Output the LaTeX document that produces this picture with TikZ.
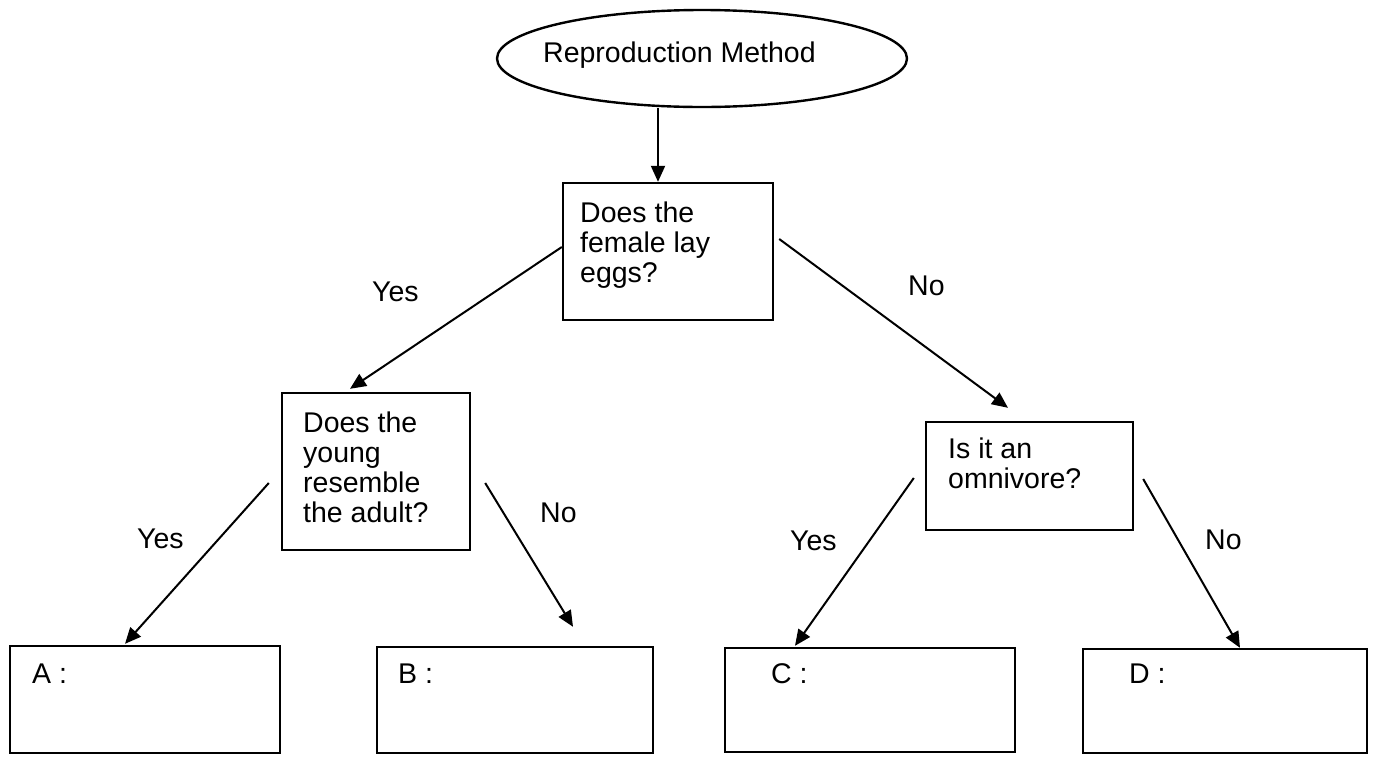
\documentclass[tikz,border=0pt]{standalone}
\usepackage{fontspec}
\setmainfont{Liberation Sans}
\usetikzlibrary{shapes.geometric,arrows.meta,calc}
\begin{document}
\begin{tikzpicture}[x=1pt,y=-1pt,
  font=\fontsize{28.5}{30}\selectfont,
  box/.style={draw, line width=2.4pt, inner sep=0pt},
  txt/.style={inner sep=0pt, align=left, anchor=north west},
  lbl/.style={inner sep=0pt, anchor=base west},
  arr/.style={line width=2pt, -{Triangle[length=16pt,width=14pt]}}]
\useasboundingbox (0,0) rectangle (1376,756);
% nodes
\node[box, ellipse, minimum width=410, minimum height=97] (e) at (702,58.5) {};
\node[lbl] (et) at (543,62) {Reproduction Method};
\node[box, minimum width=210, minimum height=137] (b1) at (668,251.5) {};
\node[txt] (t1) at (580,201.6) {Does the\\female lay\\eggs?};
\node[box, minimum width=188, minimum height=157] (b2) at (376,471.5) {};
\node[txt] (t2) at (303,411.6) {Does the\\young\\resemble\\the adult?};
\node[box, minimum width=207, minimum height=108] (b3) at (1029.5,476) {};
\node[txt] (t3) at (948,437.6) {Is it an\\omnivore?};
\node[box, minimum width=270, minimum height=107] (bA) at (145,699.5) {};
\node[box, minimum width=276, minimum height=106] (bB) at (515,700) {};
\node[box, minimum width=290, minimum height=104] (bC) at (870,700) {};
\node[box, minimum width=284, minimum height=104] (bD) at (1225,701) {};
\node[lbl] (tA) at (32,683) {A :};
\node[lbl] (tB) at (398,683) {B :};
\node[lbl] (tC) at (771,683) {C :};
\node[lbl] (tD) at (1129,683) {D :};
% edge labels
\node[lbl] (y1) at (372,301) {Yes};
\node[lbl] (n1) at (908,295) {No};
\node[lbl] (y2) at (137,548) {Yes};
\node[lbl] (n2) at (540,522) {No};
\node[lbl] (y3) at (790,550) {Yes};
\node[lbl] (n3) at (1205,549) {No};
% connectors
\draw[arr] ($(e.south)+(-44,0)$) -- ($(b1.north)+(-10,0)$);
\draw[arr] ($(b1.west)+(0,-4.5)$) -- ($(b2.north)+(-26,-3)$);
\draw[arr] ($(b1.east)+(5,-12.5)$) -- ($(b3.north)+(-21.5,-13)$);
\draw[arr] ($(b2.west)+(-12,11.5)$) -- ($(bA.north)+(-20,-1)$);
\draw[arr] ($(b2.east)+(14,11.5)$) -- ($(bB.north)+(58,-19)$);
\draw[arr] ($(b3.west)+(-11,2)$) -- ($(bC.north)+(-75,-1)$);
\draw[arr] ($(b3.east)+(9,3)$) -- ($(bD.north)+(15,0)$);
\end{tikzpicture}
\end{document}
